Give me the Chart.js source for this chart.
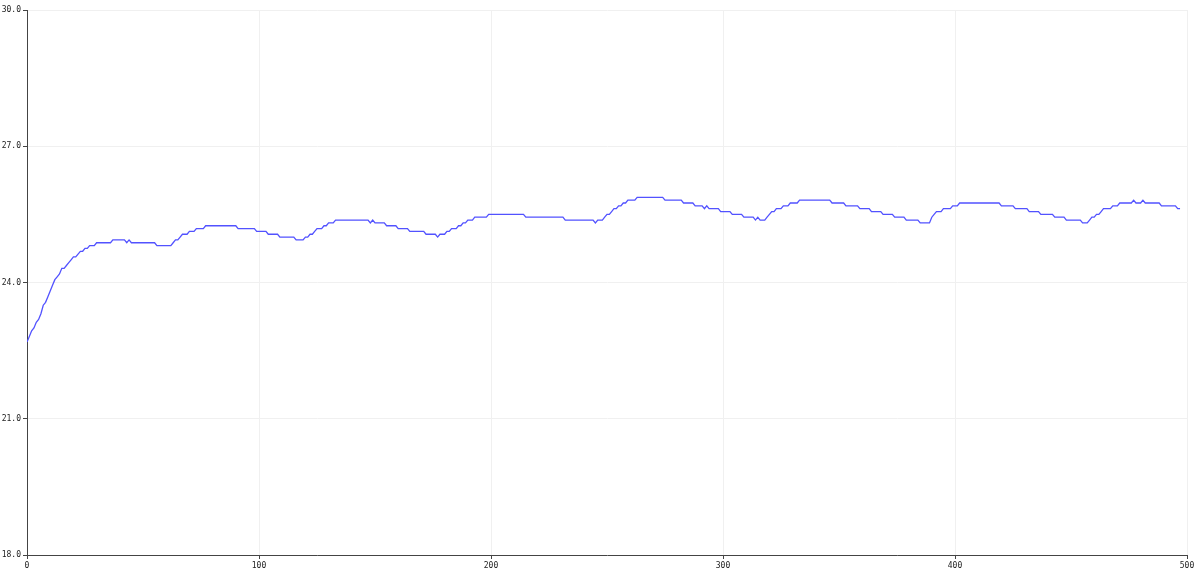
<!DOCTYPE html>
<html lang="en">

<head>
    <meta charset="UTF-8" />
    <title>Temperature log</title>
    <style>
        html, body { margin: 0; padding: 0; background: #fff; }
        #wrap { position: relative; width: 1200px; height: 577px; }
    </style>
</head>

<body>

    <div id="wrap">
        <canvas id="tempChart"></canvas>
    </div>

    <script src="https://cdn.jsdelivr.net/npm/chart.js"></script>

    <script>
        // sample index where the reading changes, and the reading there (deg C)
        const sampleIdx = [
            0, 1, 2, 3, 4, 5, 6, 7, 8, 9, 10, 11, 12, 13, 14, 15, 16, 17, 18, 19, 20, 21, 22, 23, 24, 25, 26, 27, 29,
            30, 36, 37, 42, 43, 44, 45, 55, 56, 62, 63, 64, 65, 66, 67, 69, 70, 72, 73, 76, 77, 90, 91, 98, 99, 103,
            104, 108, 109, 115, 116, 119, 120, 121, 122, 123, 124, 125, 127, 128, 129, 130, 132, 133, 147, 148, 149,
            150, 154, 155, 159, 160, 164, 165, 171, 172, 176, 177, 178, 180, 181, 182, 183, 185, 186, 187, 188, 189,
            190, 192, 193, 198, 199, 214, 215, 231, 232, 244, 245, 246, 248, 249, 250, 251, 252, 253, 254, 255, 256,
            257, 258, 259, 262, 263, 274, 275, 282, 283, 287, 288, 291, 292, 293, 294, 298, 299, 303, 304, 308, 309,
            313, 314, 315, 316, 318, 319, 320, 321, 322, 323, 325, 326, 328, 329, 332, 333, 346, 347, 352, 353, 358,
            359, 363, 364, 368, 369, 373, 374, 378, 379, 384, 385, 389, 390, 391, 392, 394, 395, 398, 399, 401, 402,
            419, 420, 425, 426, 431, 432, 436, 437, 442, 443, 447, 448, 454, 455, 457, 458, 459, 460, 461, 462, 463,
            464, 467, 468, 470, 471, 476, 477, 478, 480, 481, 482, 488, 489, 495, 496, 497
        ];
        const tempC = [
            22.6875, 22.8125, 22.9375, 23.0, 23.125, 23.1875, 23.3125, 23.5, 23.5625, 23.6875, 23.8125, 23.9375,
            24.0625, 24.125, 24.1875, 24.3125, 24.3125, 24.375, 24.4375, 24.5, 24.5625, 24.5625, 24.625, 24.6875,
            24.6875, 24.75, 24.75, 24.8125, 24.8125,
            24.875, 24.875, 24.9375, 24.9375, 24.875, 24.9375, 24.875, 24.875, 24.8125, 24.8125, 24.875, 24.9375,
            24.9375, 25.0, 25.0625, 25.0625, 25.125, 25.125, 25.1875, 25.1875, 25.25, 25.25, 25.1875, 25.1875, 25.125,
            25.125, 25.0625, 25.0625, 25.0, 25.0, 24.9375, 24.9375, 25.0, 25.0, 25.0625, 25.0625, 25.125, 25.1875,
            25.1875, 25.25, 25.25, 25.3125, 25.3125, 25.375, 25.375, 25.3125, 25.375,
            25.3125, 25.3125, 25.25, 25.25, 25.1875, 25.1875, 25.125, 25.125, 25.0625, 25.0625, 25.0, 25.0625, 25.0625,
            25.125, 25.125, 25.1875, 25.1875, 25.25, 25.25, 25.3125, 25.3125,
            25.375, 25.375, 25.4375, 25.4375, 25.5, 25.5, 25.4375, 25.4375, 25.375, 25.375, 25.3125, 25.375, 25.375,
            25.4375, 25.5, 25.5, 25.5625, 25.625, 25.625, 25.6875, 25.6875,
            25.75, 25.75, 25.8125, 25.8125, 25.875, 25.875, 25.8125, 25.8125, 25.75, 25.75, 25.6875, 25.6875, 25.625,
            25.6875, 25.625, 25.625, 25.5625, 25.5625, 25.5, 25.5, 25.4375,
            25.4375, 25.375, 25.4375, 25.375, 25.375, 25.4375, 25.5, 25.5625, 25.5625, 25.625, 25.625, 25.6875,
            25.6875, 25.75, 25.75, 25.8125, 25.8125, 25.75, 25.75, 25.6875, 25.6875,
            25.625, 25.625, 25.5625, 25.5625, 25.5, 25.5, 25.4375, 25.4375, 25.375, 25.375, 25.3125, 25.3125, 25.4375,
            25.5, 25.5625, 25.5625, 25.625, 25.625, 25.6875, 25.6875, 25.75,
            25.75, 25.6875, 25.6875, 25.625, 25.625, 25.5625, 25.5625, 25.5, 25.5, 25.4375, 25.4375, 25.375, 25.375,
            25.3125, 25.3125, 25.375, 25.4375, 25.4375, 25.5, 25.5, 25.5625,
            25.625, 25.625, 25.6875, 25.6875, 25.75, 25.75, 25.8125, 25.75, 25.75, 25.8125, 25.75, 25.75, 25.6875,
            25.6875, 25.625, 25.625
        ];
        const xTicks = [0, 100, 200, 300, 400, 500];
        const yTicks = [18, 21, 24, 27, 30];

        const points = sampleIdx.map((x, i) => ({ x: x, y: tempC[i] }));

        const tickFont = { family: 'DejaVu Sans Mono', size: 8 };

        const ctx = document.getElementById('tempChart').getContext('2d');

        const tempChart = new Chart(ctx, {
            type: 'line',
            data: {
                datasets: [{
                    label: 'Temperature',
                    data: points,
                    borderColor: '#5252ff',
                    borderWidth: 1.3,
                    pointRadius: 0,
                    tension: 0,
                    fill: false
                }]
            },
            options: {
                responsive: true,
                maintainAspectRatio: false,
                animation: false,
                layout: {
                    padding: { top: 10, right: 13, left: 0, bottom: 0 }
                },
                plugins: {
                    legend: { display: false },
                    tooltip: { enabled: false }
                },
                scales: {
                    x: {
                        type: 'linear',
                        min: xTicks[0],
                        max: xTicks[xTicks.length - 1],
                        afterBuildTicks: (scale) => { scale.ticks = xTicks.map(v => ({ value: v })); },
                        afterFit: (scale) => { scale.height = 22; },
                        grid: { color: '#f0f0f0', tickColor: '#444', tickLength: 4 },
                        border: { color: '#444', width: 1 },
                        ticks: {
                            color: '#222',
                            font: tickFont,
                            padding: 2,
                            maxRotation: 0,
                            callback: (value) => value
                        }
                    },
                    y: {
                        min: yTicks[0],
                        max: yTicks[yTicks.length - 1],
                        afterBuildTicks: (scale) => { scale.ticks = yTicks.map(v => ({ value: v })); },
                        afterFit: (scale) => { scale.width = 27; },
                        grid: { color: '#f0f0f0', tickColor: '#444', tickLength: 4 },
                        border: { color: '#444', width: 1 },
                        ticks: {
                            color: '#222',
                            font: tickFont,
                            padding: 2,
                            callback: (value) => value.toFixed(1)
                        }
                    }
                }
            }
        });
    </script>
</body>

</html>
